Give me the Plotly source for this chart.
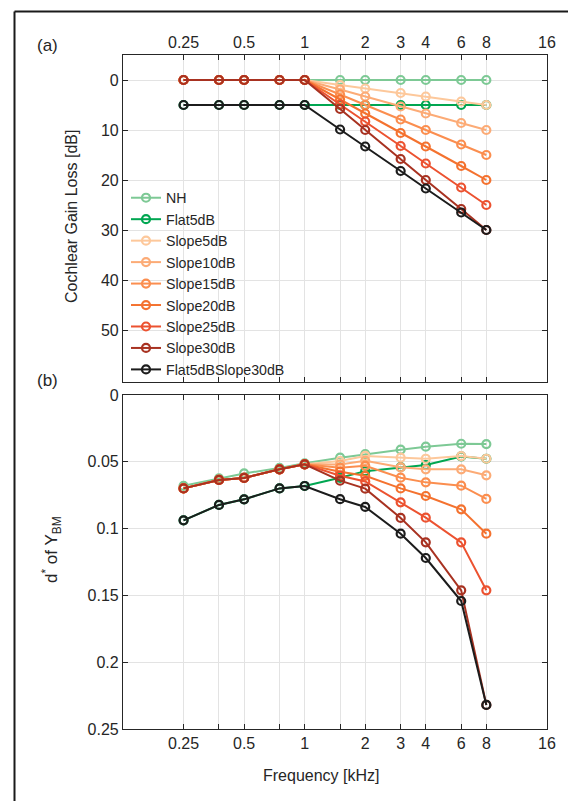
import plotly.graph_objects as go
import math

freqs = [0.25, 0.375, 0.5, 0.75, 1, 1.5, 2, 3, 4, 6, 8]
names = ["NH", "Flat5dB", "Slope5dB", "Slope10dB", "Slope15dB", "Slope20dB",
         "Slope25dB", "Slope30dB", "Flat5dBSlope30dB"]
colors = ["#7dc995", "#00a651", "#fdc89b", "#fcab76", "#fb8e4f", "#f4722f",
          "#ec5230", "#a83221", "#1c1c1c"]

# Panel (a): cochlear gain loss [dB]
loss_NH = [0, 0, 0, 0, 0, 0, 0, 0, 0, 0, 0]
loss_Flat5 = [5, 5, 5, 5, 5, 5, 5, 5, 5, 5, 5]
loss_S5 = [0, 0, 0, 0, 0, 1.0, 1.7, 2.6, 3.3, 4.3, 5]
loss_S10 = [0, 0, 0, 0, 0, 1.9, 3.3, 5.3, 6.7, 8.6, 10]
loss_S15 = [0, 0, 0, 0, 0, 2.9, 5.0, 7.9, 10.0, 12.9, 15]
loss_S20 = [0, 0, 0, 0, 0, 3.9, 6.7, 10.6, 13.3, 17.2, 20]
loss_S25 = [0, 0, 0, 0, 0, 4.9, 8.3, 13.2, 16.7, 21.5, 25]
loss_S30 = [0, 0, 0, 0, 0, 5.8, 10.0, 15.8, 20.0, 25.8, 30]
loss_F5S30 = [5, 5, 5, 5, 5, 9.9, 13.3, 18.2, 21.7, 26.5, 30]

# Panel (b): d* of Y_BM
d_NH = [0.068, 0.0624, 0.0587, 0.0546, 0.0511, 0.0469, 0.0442, 0.0409, 0.0387, 0.0365, 0.0367]
d_Flat5 = [0.0938, 0.0823, 0.0781, 0.0699, 0.0681, 0.062, 0.057, 0.054, 0.0524, 0.046, 0.0477]
d_S5 = [0.0699, 0.0636, 0.0621, 0.0556, 0.0519, 0.0494, 0.0456, 0.0469, 0.0477, 0.0457, 0.0477]
d_S10 = [0.0699, 0.0636, 0.0621, 0.0556, 0.0519, 0.052, 0.0493, 0.0541, 0.0556, 0.0556, 0.0601]
d_S15 = [0.0699, 0.0636, 0.0621, 0.0556, 0.0519, 0.0544, 0.053, 0.0619, 0.0654, 0.0679, 0.0778]
d_S20 = [0.0699, 0.0636, 0.0621, 0.0556, 0.0519, 0.0574, 0.0605, 0.0699, 0.0756, 0.0856, 0.1038]
d_S25 = [0.0699, 0.0636, 0.0621, 0.0556, 0.0519, 0.0604, 0.0647, 0.0803, 0.0918, 0.1103, 0.1462]
d_S30 = [0.0699, 0.0636, 0.0621, 0.0556, 0.0519, 0.0641, 0.0701, 0.092, 0.1103, 0.1462, 0.232]
d_F5S30 = [0.0938, 0.0823, 0.0781, 0.0699, 0.0681, 0.078, 0.0838, 0.1038, 0.122, 0.1542, 0.232]

loss_sets = [loss_NH, loss_Flat5, loss_S5, loss_S10, loss_S15, loss_S20, loss_S25, loss_S30, loss_F5S30]
d_sets = [d_NH, d_Flat5, d_S5, d_S10, d_S15, d_S20, d_S25, d_S30, d_F5S30]

xtick_vals = [0.25, 0.5, 1, 2, 3, 4, 6, 8, 16]
xtick_text = ["0.25", "0.5", "1", "2", "3", "4", "6", "8", "16"]
xminor_vals = [0.375, 0.75, 1.5]
ytick_a = [0, 10, 20, 30, 40, 50]
ytick_b = [0, 0.05, 0.1, 0.15, 0.2, 0.25]
ytick_b_text = ["0", "0.05", "0.1", "0.15", "0.2", "0.25"]

FONT = "Liberation Sans, Arial, Helvetica, sans-serif"
fig = go.Figure()
for nm, c, ys in zip(names, colors, loss_sets):
    fig.add_trace(go.Scatter(x=freqs, y=ys, name=nm, mode="lines+markers",
                             line=dict(color=c, width=2),
                             marker=dict(symbol="circle-open", size=8, color=c, line=dict(width=2.2, color=c)),
                             xaxis="x", yaxis="y", showlegend=True))
for nm, c, ys in zip(names, colors, d_sets):
    fig.add_trace(go.Scatter(x=freqs, y=ys, name=nm, mode="lines+markers",
                             line=dict(color=c, width=2),
                             marker=dict(symbol="circle-open", size=8, color=c, line=dict(width=2.2, color=c)),
                             xaxis="x2", yaxis="y2", showlegend=False))

xr = [math.log10(0.125), math.log10(16.02)]
common_x = dict(type="log", range=xr, tickvals=xtick_vals, ticktext=xtick_text,
                showgrid=True, gridcolor="#e3e3e3", gridwidth=1,
                minor=dict(tickvals=xminor_vals, ticks="inside", ticklen=5, tickcolor="#262626",
                           showgrid=True, gridcolor="#e3e3e3", gridwidth=1),
                showline=True, linecolor="#262626", linewidth=1.2, mirror="allticks",
                ticks="inside", ticklen=5, tickcolor="#262626",
                tickfont=dict(size=16, color="#262626", family=FONT), zeroline=False)
common_y = dict(showgrid=True, gridcolor="#e3e3e3", gridwidth=1,
                showline=True, linecolor="#262626", linewidth=1.2, mirror="allticks",
                ticks="inside", ticklen=5, tickcolor="#262626",
                tickfont=dict(size=16, color="#262626", family=FONT), zeroline=False)

H = 801.0
L, R, T, B = 123, 21, 55, 72
ph = H - T - B
def py(y):
    return (H - B - y) / ph
def px(x):
    return (x - L) / (568 - L - R)

fig.update_layout(
    width=568, height=801,
    margin=dict(l=L, r=R, t=T, b=B, autoexpand=False),
    paper_bgcolor="white", plot_bgcolor="white",
    font=dict(family=FONT, size=16, color="#262626"),
    xaxis=dict(common_x, domain=[0, 1], anchor="y", side="top"),
    yaxis=dict(common_y, domain=[py(382), 1], anchor="x", range=[60.4, -5],
               tickvals=ytick_a),
    xaxis2=dict(common_x, domain=[0, 1], anchor="y2", side="bottom"),
    yaxis2=dict(common_y, domain=[0, py(395)], anchor="x2", range=[0.25, 0],
                tickvals=ytick_b, ticktext=ytick_b_text),
    legend=dict(x=px(126), y=py(182), xanchor="left", yanchor="top",
                bgcolor="rgba(0,0,0,0)", borderwidth=0,
                font=dict(size=14.2, family=FONT, color="#262626"),
                tracegroupgap=0, itemwidth=30),
    showlegend=True,
)

def A(text, x, y, size=16, angle=0):
    return dict(text=text, x=px(x), y=py(y), xref="paper", yref="paper", showarrow=False,
                xanchor="center", yanchor="middle", textangle=angle, font=dict(size=size))

ann = [
    A("(a)", 47, 45, 17),
    A("(b)", 47, 380, 17),
    A("Cochlear Gain Loss [dB]", 72, 217, 16, -90),
    A("d<sup>*</sup> of Y<sub>BM</sub>", 51, 550, 17, -90),
    A("Frequency [kHz]", 321, 776, 16),
]
fig.update_layout(annotations=ann)

fig.add_shape(type="line", xref="paper", yref="paper", x0=px(14.5), x1=px(600),
              y0=py(11.5), y1=py(11.5), line=dict(color="#1a1a1a", width=2))
fig.add_shape(type="line", xref="paper", yref="paper", x0=px(14.5), x1=px(14.5),
              y0=py(11.5), y1=py(820), line=dict(color="#1a1a1a", width=2))

fig.write_html("out.html", config={"displayModeBar": False},
               post_script="document.body.style.margin='0';document.body.style.padding='0';")
